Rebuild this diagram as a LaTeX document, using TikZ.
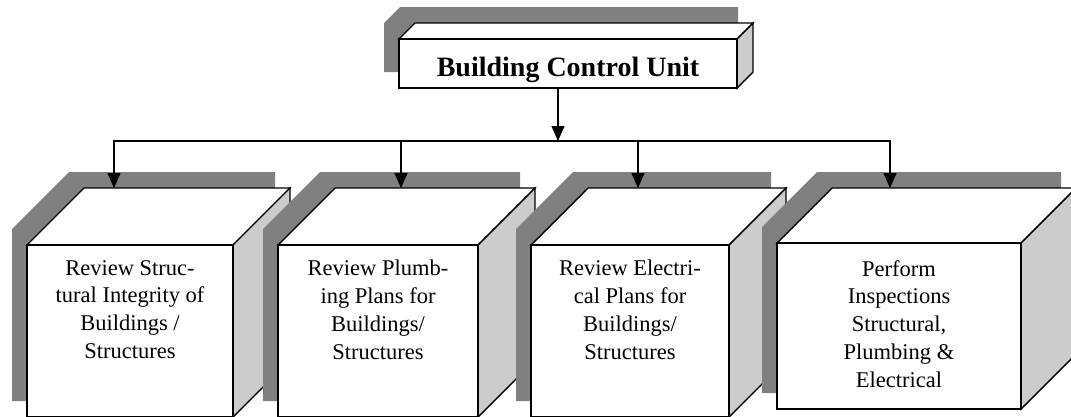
\documentclass[tikz,border=0pt]{standalone}
\usepackage{fontspec}
\setmainfont{Liberation Serif}
\usetikzlibrary{arrows.meta}
\definecolor{shadowgray}{HTML}{808080}
\definecolor{sidegray}{HTML}{CCCCCC}
\tikzset{
  edge/.style={draw=black, line width=1.4pt, line join=miter},
  frontface/.style={edge, fill=white, inner sep=0pt, outer sep=0pt, anchor=north west},
  boxlabel/.style={inner sep=0pt, align=center, anchor=north,
    font=\fontsize{22.5}{27.8}\selectfont},
  titlelabel/.style={inner sep=0pt, anchor=base,
    font=\fontsize{28}{34}\selectfont\bfseries},
  flow/.style={line width=1.4pt},
  flowarrow/.style={flow, -{Triangle[length=15pt,width=13pt]}},
}
% A raised box: drop shadow, top face, side face and a named front face.
% #1 name, #2 front left, #3 front top, #4 front right, #5 front bottom, #6 depth
\newcommand\solidbox[6]{%
  \pgfmathsetmacro\bxl{#2+#6}\pgfmathsetmacro\bxr{#4+#6}%
  \pgfmathsetmacro\byt{#3-#6}\pgfmathsetmacro\byb{#5-#6}%
  \pgfmathsetmacro\fw{#4-#2}\pgfmathsetmacro\fh{#5-#3}%
  \fill[shadowgray, shift={(-15,-16)}] (#2,#5) -- (#2,#3) -- (\bxl,\byt)
    -- (\bxr,\byt) -- (\bxr,\byb) -- (#4,#5) -- cycle;
  \filldraw[edge, fill=white] (#2,#3) -- (\bxl,\byt) -- (\bxr,\byt) -- (#4,#3) -- cycle;
  \filldraw[edge, fill=sidegray] (#4,#3) -- (\bxr,\byt) -- (\bxr,\byb) -- (#4,#5) -- cycle;
  \node[frontface, minimum width=\fw pt, minimum height=\fh pt] (#1) at (#2,#3) {};
}
\begin{document}
\begin{tikzpicture}[x=1pt, y=-1pt]
  \useasboundingbox (0,0) rectangle (1071,416);
  \clip (0,0) rectangle (1071,416);

  % department boxes
  \solidbox{c1}{27}{245}{233}{417}{57}
  \solidbox{c2}{278}{245}{478}{417}{57}
  \solidbox{c3}{531}{245}{729}{417}{57}
  \solidbox{c4}{777}{243}{1021}{409}{55}

  \node[boxlabel] (c1-label) at ([yshift=-15pt]c1.north)
    {Review Struc-\\tural Integrity of\\Buildings /\\Structures};
  \node[boxlabel] (c2-label) at ([yshift=-15pt]c2.north)
    {Review Plumb-\\ing Plans for\\Buildings/\\Structures};
  \node[boxlabel] (c3-label) at ([yshift=-15pt]c3.north)
    {Review Electri-\\cal Plans for\\Buildings/\\Structures};
  \node[boxlabel] (c4-label) at ([yshift=-17pt]c4.north)
    {Perform\\Inspections\\Structural,\\Plumbing \&\\Electrical};

  % head unit
  \solidbox{bcu}{399}{39}{737}{88}{16}
  \node[titlelabel] (bcu-label) at (568,76) {Building Control Unit};

  % connectors
  \coordinate (hub) at (558,141);
  \coordinate (in1) at (114,188);
  \coordinate (in2) at (401,188);
  \coordinate (in3) at (638,188);
  \coordinate (in4) at (890,188);
  \draw[flowarrow] ([xshift=-10pt]bcu.south) -- (hub);
  \draw[flowarrow] (hub) -| (in1);
  \draw[flowarrow] (hub) -| (in4);
  \draw[flowarrow] (in2 |- hub) -- (in2);
  \draw[flowarrow] (in3 |- hub) -- (in3);
\end{tikzpicture}
\end{document}
